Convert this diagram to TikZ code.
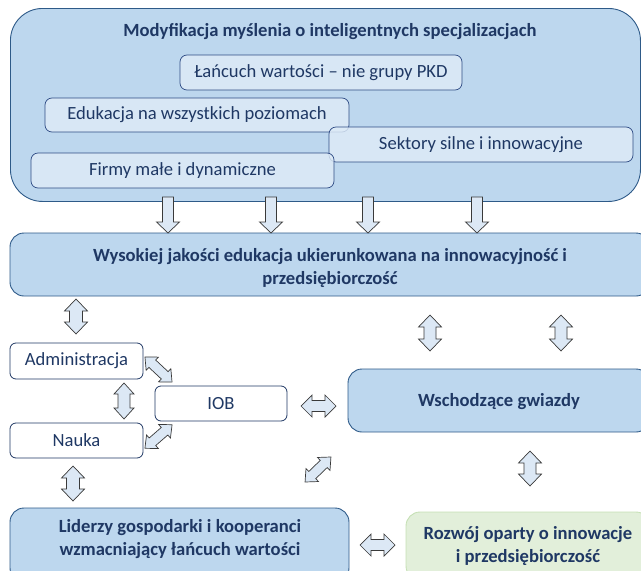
\documentclass[tikz,border=0pt]{standalone}
\usepackage{fontspec}
\setmainfont{Carlito}
\usetikzlibrary{calc}
\definecolor{txt}{HTML}{1F3864}
\definecolor{bigfill}{HTML}{BDD7EE}
\definecolor{bigdraw}{HTML}{2E5A88}
\definecolor{innfill}{HTML}{DEEBF7}
\definecolor{inndraw}{HTML}{2F4C85}
\definecolor{grfill}{HTML}{E2EFDA}
\definecolor{grdraw}{HTML}{C5E0B4}
\definecolor{arrfill}{HTML}{DCE8F5}
\definecolor{arrdraw}{HTML}{3A3A3A}
\tikzset{
  bigbox/.style={draw=bigdraw, fill=bigfill, line width=0.9pt, inner sep=0pt},
  boldtxt/.style={text=txt, font=\fontsize{18.6}{23}\selectfont\bfseries, align=center, inner sep=0pt},
  innbox/.style={draw=inndraw, fill=innfill, fill opacity=0.82, text opacity=1, line width=0.7pt, rounded corners=7pt, text=txt, font=\fontsize{18.6}{22}\selectfont, inner sep=0pt},
  whitebox/.style={draw=txt, fill=white, line width=0.8pt, rounded corners=6pt, text=txt, font=\fontsize{18.6}{22}\selectfont, inner sep=0pt},
  greenbox/.style={draw=grdraw, fill=grfill, line width=0.9pt, rounded corners=14pt, inner sep=0pt},
  blk/.style={draw=arrdraw, fill=arrfill, line width=0.7pt, line join=miter}
}
% #1 name, #2 cx, #3 cy, #4 angle, #5 length, #6 half head width, #7 half shaft width, #8 head length
\newcommand\DblArrow[8]{%
  \coordinate (#1) at (#2,#3);
  \begin{scope}[shift={(#1)}, rotate=#4]
    \draw[blk] ({-#5/2},0) -- ({-#5/2+#8},{-#6}) -- ({-#5/2+#8},{-#7}) -- ({#5/2-#8},{-#7})
      -- ({#5/2-#8},{-#6}) -- ({#5/2},0) -- ({#5/2-#8},{#6}) -- ({#5/2-#8},{#7})
      -- ({-#5/2+#8},{#7}) -- ({-#5/2+#8},{#6}) -- cycle;
  \end{scope}}
% #1 name, #2 cx, #3 ytop, #4 ytip
\newcommand\DownArrow[4]{%
  \coordinate (#1) at (#2,#3);
  \draw[blk] ($(#1)+(-5.5,0)$) -- ++(11,0) -- ++(0,{#4-#3-11}) -- ++(6,0) -- ($(#1)+(0,{#4-#3})$)
    -- ++(-11.5,-11) -- ++(6,0) -- cycle;}
\begin{document}
\begin{tikzpicture}[x=1pt,y=-1pt]
\useasboundingbox (0,0) rectangle (641,571);
\clip (0,0) rectangle (641,571);
% top box
\node[bigbox, rounded corners=32pt, minimum width=630pt, minimum height=193pt, anchor=north west] (top) at (10,8) {};
\node[boldtxt] (toptitle) at (330,32) {Modyfikacja myślenia o inteligentnych specjalizacjach};
\node[innbox, minimum width=282pt, minimum height=35pt] (lan) at (321,72.5) {Łańcuch wartości – nie grupy PKD};
\node[innbox, minimum width=304pt, minimum height=34pt] (edu) at (197,115) {Edukacja na wszystkich poziomach};
\node[innbox, minimum width=304pt, minimum height=35pt] (sek) at (481,144.5) {Sektory silne i innowacyjne};
\node[innbox, minimum width=303pt, minimum height=35pt] (fir) at (182.5,170.5) {Firmy małe i dynamiczne};
% second box
\node[bigbox, rounded corners=14pt, minimum width=640pt, minimum height=63pt] (edq) at (330,264.5) {};
\node[boldtxt] (edqtxt) at (330,267.5) {Wysokiej jakości edukacja ukierunkowana na innowacyjność i\\ przedsiębiorczość};
% down arrows
\DownArrow{d1}{168}{197}{233}
\DownArrow{d2}{271}{197}{233}
\DownArrow{d3}{368}{197}{233}
\DownArrow{d4}{477}{197}{233}
% small boxes
\node[whitebox, minimum width=133pt, minimum height=36pt] (adm) at (76.5,361) {Administracja};
\node[whitebox, minimum width=133pt, minimum height=35pt] (nau) at (76.5,440.5) {Nauka};
\node[whitebox, minimum width=132pt, minimum height=35pt] (iob) at (221,403.5) {IOB};
% right and bottom boxes
\node[bigbox, rounded corners=14pt, minimum width=302pt, minimum height=63pt] (wsc) at (499,400.5) {};
\node[boldtxt] (wsctxt) at (499,402) {Wschodzące gwiazdy};
\node[bigbox, rounded corners=14pt, minimum width=339pt, minimum height=74pt] (lid) at (179.5,545) {};
\node[boldtxt] (lidtxt) at (180,539.5) {Liderzy gospodarki i kooperanci\\ wzmacniający łańcuch wartości};
\node[greenbox, minimum width=244pt, minimum height=68pt] (roz) at (528,546) {};
\node[boldtxt] (roztxt) at (528,546) {Rozwój oparty o innowacje\\ i przedsiębiorczość};
% double arrows
\DblArrow{a1}{76}{316.5}{90}{35}{11.5}{6.5}{12}
\DblArrow{a2}{124}{401}{90}{36}{10}{6}{11}
\DblArrow{a3}{73}{483.5}{90}{35}{11.5}{6.5}{12}
\DblArrow{a4}{430}{333}{90}{36}{11.5}{6}{12}
\DblArrow{a5}{561}{333}{90}{36}{11.5}{6}{12}
\DblArrow{a6}{530}{468.5}{90}{35}{11.5}{6}{12}
\DblArrow{a7}{318.5}{406}{0}{35}{11}{5.5}{11}
\DblArrow{a8}{377.5}{545}{0}{35}{11}{5.5}{11}
\DblArrow{a9}{158.5}{369.5}{-43}{37}{9}{5}{10}
\DblArrow{a10}{158.5}{436.5}{41}{36}{9}{5}{10}
\DblArrow{a11}{318}{469.5}{44}{36}{9}{5}{10}
\end{tikzpicture}
\end{document}
